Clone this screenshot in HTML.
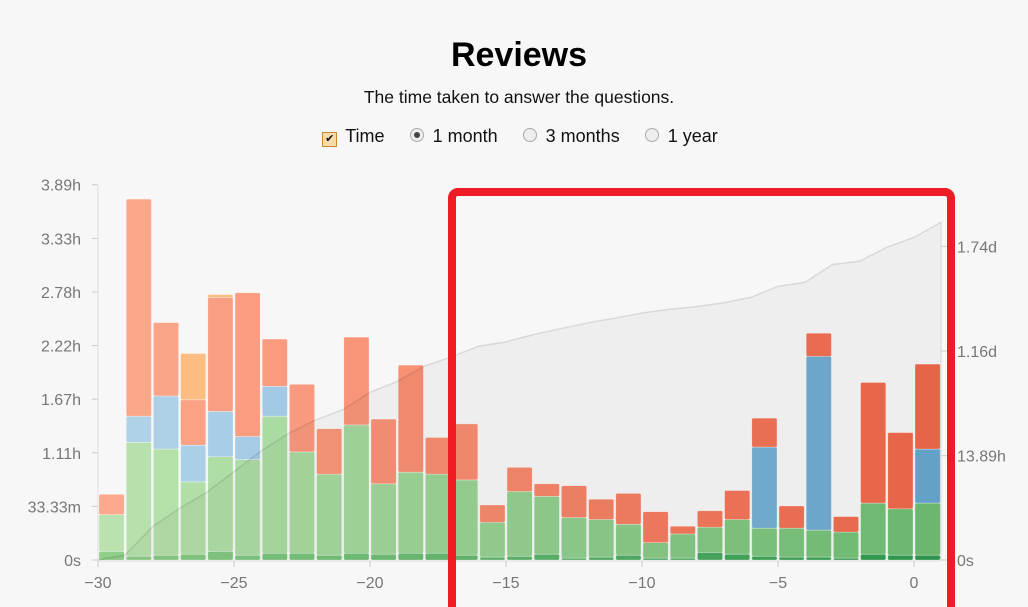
<!DOCTYPE html>
<html><head><meta charset="utf-8"><style>
body{margin:0;background:#f7f7f7;font-family:"Liberation Sans",Arial,sans-serif;}
#wrap{position:relative;width:1028px;height:607px;overflow:hidden;background:#f7f7f7}
h1{position:absolute;top:36px;left:0;width:1038px;text-align:center;margin:0;font-size:34px;font-weight:bold;color:#000}
.sub{position:absolute;top:87px;left:0;width:1038px;text-align:center;font-size:17.5px;color:#111}
.ctrl{position:absolute;top:126px;left:0;width:1040px;text-align:center;font-size:18px;color:#111}
.ctrl span{margin:0 10px}
.cb{display:inline-block;width:13px;height:13px;border:1px solid #c98a2a;background:#f8d9a8;vertical-align:0px;margin-right:8px;font-size:11px;line-height:13px;text-align:center;font-style:normal}
.rb{display:inline-block;width:12px;height:12px;border-radius:50%;border:1px solid #aaa;background:#eee;vertical-align:0px;margin-right:9px;position:relative}
.rb.on:after{content:"";position:absolute;left:3px;top:3px;width:6px;height:6px;border-radius:50%;background:#444}
svg{position:absolute;left:0;top:0}
</style></head><body>
<div id="wrap">
<h1>Reviews</h1>
<div class="sub">The time taken to answer the questions.</div>
<div class="ctrl">
<span><i class="cb">✔</i>Time</span>
<span><i class="rb on"></i>1 month</span>
<span><i class="rb"></i>3 months</span>
<span><i class="rb"></i>1 year</span>
</div>
<svg id="chart" width="1028" height="607"></svg>
</div>
<script>
const days=[-30,-29,-28,-27,-26,-25,-24,-23,-22,-21,-20,-19,-18,-17,-16,-15,-14,-13,-12,-11,-10,-9,-8,-7,-6,-5,-4,-3,-2,-1,0];
const learnH=[.09,.04,.05,.06,.09,.05,.07,.07,.05,.07,.06,.07,.07,.05,.03,.04,.06,.02,.03,.05,.02,.02,.08,.06,.04,.03,.03,.02,.06,.05,.05];
const youngH=[.38,1.18,1.10,.75,.98,.99,1.42,1.05,.84,1.33,.73,.84,.82,.78,.36,.67,.60,.42,.39,.32,.16,.25,.26,.36,.29,.30,.28,.27,.53,.48,.54];
const matureH=[0,.27,.55,.38,.47,.24,.31,0,0,0,0,0,0,0,0,0,0,0,0,0,0,0,0,0,.84,0,1.80,0,0,0,.56];
const relearnH=[.21,2.25,.76,.47,1.18,1.49,.49,.70,.47,.91,.67,1.11,.38,.58,.18,.25,.13,.33,.21,.32,.32,.08,.17,.30,.30,.23,.24,.16,1.25,.79,.88];
const filteredH=[0,0,0,.48,.03,0,0,0,0,0,0,0,0,0,0,0,0,0,0,0,0,0,0,0,0,0,0,0,0,0,0];
const leftTicks=[0,0.5556,1.1111,1.6667,2.2222,2.7778,3.3333,3.8889];
const leftLabels=["0s","33.33m","1.11h","1.67h","2.22h","2.78h","3.33h","3.89h"];
const rightTicks=[0,13.89,27.84,41.76];
const rightLabels=["0s","13.89h","1.16d","1.74d"];
const xTicks=[-30,-25,-20,-15,-10,-5,0];

const NS="http://www.w3.org/2000/svg",svg=document.getElementById('chart');
const X=d=>98+(d+30)*27.2, Y=h=>560-h*96.5, Y2=h=>560-h*7.51;
function mk(t,a,p){const e=document.createElementNS(NS,t);for(const k in a)e.setAttribute(k,a[k]);(p||svg).appendChild(e);return e;}
function lerp(c1,c2,t){const a=c1.match(/\w\w/g).map(x=>parseInt(x,16)),b=c2.match(/\w\w/g).map(x=>parseInt(x,16));return'rgb('+a.map((v,i)=>Math.round(v+(b[i]-v)*t)).join(',')+')';}
// axes
const la=mk('g',{});
mk('line',{x1:98,x2:98,y1:185,y2:560,stroke:'#ddd'},la);
leftTicks.forEach((v,i)=>{mk('line',{x1:92,x2:98,y1:Y(v),y2:Y(v),stroke:'#ccc'},la);
 const t=mk('text',{x:81,y:Y(v)+6,'text-anchor':'end','font-size':16,fill:'#777'},la);t.textContent=leftLabels[i];
 });
const ra=mk('g',{});
mk('line',{x1:941,x2:941,y1:222,y2:560,stroke:'#ddd'},ra);
rightTicks.forEach((v,i)=>{mk('line',{x1:941,x2:947,y1:Y2(v),y2:Y2(v),stroke:'#ccc'},ra);
 const t=mk('text',{x:957,y:Y2(v)+6,'font-size':16,fill:'#777'},ra);t.textContent=rightLabels[i];
 });
const xa=mk('g',{});
mk('line',{x1:98,x2:941,y1:561,y2:561,stroke:'#ddd'},xa);
xTicks.forEach(v=>{mk('line',{x1:X(v),x2:X(v),y1:561,y2:567,stroke:'#ccc'},xa);
 const t=mk('text',{x:X(v),y:588,'text-anchor':'middle','font-size':16,fill:'#777'},xa);t.textContent=(v<0?'\u2212'+(-v):v);
 });
// bars
const series=[[learnH,'8fcf88','2e9a4f','learning'],[youngH,'b9e2ae','6fbe72','young'],[matureH,'b2d3e9','67a7cf','mature'],[relearnH,'fca88c','f0674a','relearn'],[filteredH,'fdc088','fd9a4c','filtered']];
days.forEach((d,i)=>{const t=i/(days.length-1);let base=0;
 const g=mk('g',{});
 series.forEach(s=>{const v=s[0][i];if(v<=0)return;
  const r=mk('rect',{x:X(d)+1,width:25.2,y:Y(base+v),height:v*96.5,rx:1.5,fill:lerp(s[1],s[2],t),stroke:'rgba(255,255,255,0.5)','stroke-width':0.6},g);
  
  base+=v;});
});
// cumulative area (drawn over bars, translucent)
let cum=0;const pts=[[X(-30),Y2(0)]];
days.forEach((d,i)=>{cum+=learnH[i]+youngH[i]+matureH[i]+relearnH[i]+filteredH[i];pts.push([X(d+1),Y2(cum)]);});
let dstr='M'+pts.map(p=>p.join(',')).join('L');
const area=mk('path',{d:dstr+'L'+X(1)+',560L'+X(-30)+',560Z',fill:'rgba(0,0,0,0.035)'});

const line=mk('path',{d:dstr,fill:'none',stroke:'rgba(0,0,0,0.1)','stroke-width':1.5});

// annotation box
const box=mk('rect',{x:452,y:192,width:499,height:430,rx:6,fill:'none',stroke:'#ee1c25','stroke-width':8});

</script>
</body></html>
